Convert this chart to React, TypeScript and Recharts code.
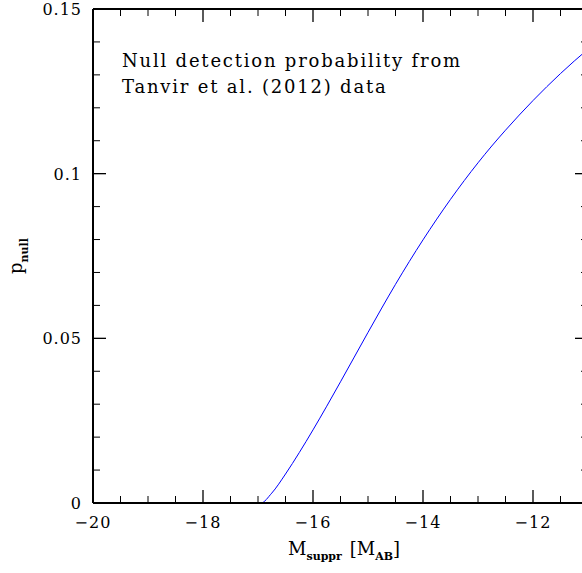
import React from "react";
import { LineChart, Line, XAxis, YAxis } from "recharts";

const magnitudes = [-20, -19, -18, -17.5, -17, -16.95, -16.75, -16.5, -16.25, -16, -15.75, -15.5, -15.25, -15, -14.75, -14.5, -14.25, -14, -13.75, -13.5, -13.25, -13, -12.75, -12.5, -12.25, -12, -11.75, -11.5, -11.25, -11];
const pNull = [0, 0, 0, 0, 0, 0, 0.003, 0.0088, 0.0153, 0.0222, 0.0294, 0.0368, 0.0443, 0.0518, 0.0592, 0.0664, 0.0733, 0.0799, 0.0862, 0.0922, 0.0979, 0.1033, 0.1084, 0.1132, 0.1178, 0.1222, 0.1264, 0.1304, 0.1342, 0.1378];

const xTicks = [-20, -19.5, -19, -18.5, -18, -17.5, -17, -16.5, -16, -15.5, -15, -14.5, -14, -13.5, -13, -12.5, -12, -11.5, -11];
const xMajor = [-20, -18, -16, -14, -12];
const yTicks = [0, 0.01, 0.02, 0.03, 0.04, 0.05, 0.06, 0.07, 0.08, 0.09, 0.1, 0.11, 0.12, 0.13, 0.14, 0.15];
const yMajor = [0, 0.05, 0.1, 0.15];
const yLabels = ["0", "0.05", "0.1", "0.15"];
const xLabels = ["\u221220", "\u221218", "\u221216", "\u221214", "\u221212"];

const titleLines = ["Null detection probability from", "Tanvir et al. (2012) data"];

const data = magnitudes.map((m, i) => ({ m, p: pNull[i] }));

const FONT = "'DejaVu Serif', serif";
const MAJOR = 13;
const MINOR = 7;

const idxOf = (arr: number[], v: number) => arr.findIndex((a) => Math.abs(a - v) < 1e-9);

const XTick = (top: boolean) => (props: any) => {
  const { x, y, payload } = props;
  const k = idxOf(xMajor, payload.value);
  const len = k >= 0 ? MAJOR : MINOR;
  const dir = top ? 1 : -1;
  return (
    <g>
      <line x1={x} x2={x} y1={y} y2={y + dir * len} stroke="#000" strokeWidth={k >= 0 ? 1.3 : 1} />
      {!top && k >= 0 && (
        <text x={x} y={y + 25} textAnchor="middle" fontFamily={FONT} fontSize={16} fill="#000" letterSpacing={1}>
          {xLabels[k]}
        </text>
      )}
    </g>
  );
};

const YTick = (right: boolean) => (props: any) => {
  const { x, y, payload } = props;
  const k = idxOf(yMajor, payload.value);
  const len = k >= 0 ? MAJOR : MINOR;
  const dir = right ? -1 : 1;
  return (
    <g>
      <line x1={x} x2={x + dir * len} y1={y} y2={y} stroke="#000" strokeWidth={k >= 0 ? 1.3 : 1} />
      {!right && k >= 0 && (
        <text x={x - 11} y={y + 6} textAnchor="end" fontFamily={FONT} fontSize={16} fill="#000" letterSpacing={1}>
          {yLabels[k]}
        </text>
      )}
    </g>
  );
};

export default function App() {
  return (
    <div style={{ position: "absolute", left: 0, top: 0, width: 582, height: 573, overflow: "hidden", background: "#fff" }}>
      <LineChart width={600} height={573} data={data} margin={{ top: 8, right: 11, bottom: 69, left: 92 }}>
        <XAxis
          xAxisId="b"
          type="number"
          dataKey="m"
          domain={[-20, -11]}
          ticks={xTicks}
          interval={0}
          height={1}
          tickSize={0}
          tickMargin={0}
          tickLine={false}
          tick={XTick(false)}
          axisLine={{ stroke: "#000", strokeWidth: 2 }}
          allowDataOverflow
        />
        <XAxis
          xAxisId="t"
          orientation="top"
          type="number"
          dataKey="m"
          domain={[-20, -11]}
          ticks={xTicks}
          interval={0}
          height={1}
          tickSize={0}
          tickMargin={0}
          tickLine={false}
          tick={XTick(true)}
          axisLine={{ stroke: "#000", strokeWidth: 2 }}
          allowDataOverflow
        />
        <YAxis
          yAxisId="l"
          type="number"
          domain={[0, 0.15]}
          ticks={yTicks}
          interval={0}
          width={1}
          tickSize={0}
          tickMargin={0}
          tickLine={false}
          tick={YTick(false)}
          axisLine={{ stroke: "#000", strokeWidth: 2 }}
          allowDataOverflow
        />
        <YAxis
          yAxisId="r"
          orientation="right"
          type="number"
          domain={[0, 0.15]}
          ticks={yTicks}
          interval={0}
          width={1}
          tickSize={0}
          tickMargin={0}
          tickLine={false}
          tick={YTick(true)}
          axisLine={{ stroke: "#000", strokeWidth: 2 }}
          allowDataOverflow
        />
        <Line
          xAxisId="b"
          yAxisId="l"
          dataKey="p"
          type="monotone"
          stroke="#0000ff"
          strokeWidth={1}
          dot={false}
          isAnimationActive={false}
        />
      </LineChart>
      <svg width={582} height={573} style={{ position: "absolute", left: 0, top: 0, pointerEvents: "none" }}>
        <text x={122} y={66.5} fontFamily={FONT} fontSize={18} fill="#000" letterSpacing={1.8}>
          {titleLines[0]}
        </text>
        <text x={122} y={93} fontFamily={FONT} fontSize={18} fill="#000" letterSpacing={1.8}>
          {titleLines[1]}
        </text>
        <text x={288} y={555} fontFamily={FONT} fontSize={18} fill="#000">
          M
          <tspan fontSize={11} fontWeight="bold" dy={5}>suppr</tspan>
          <tspan fontSize={18} dy={-5} dx={8}>[M</tspan>
          <tspan fontSize={11} fontWeight="bold" dy={5}>AB</tspan>
          <tspan fontSize={18} dy={-5}>]</tspan>
        </text>
        <text transform="translate(22,274) rotate(-90)" fontFamily={FONT} fontSize={18} fill="#000">
          p
          <tspan fontSize={11} fontWeight="bold" dy={6}>null</tspan>
        </text>
      </svg>
    </div>
  );
}
